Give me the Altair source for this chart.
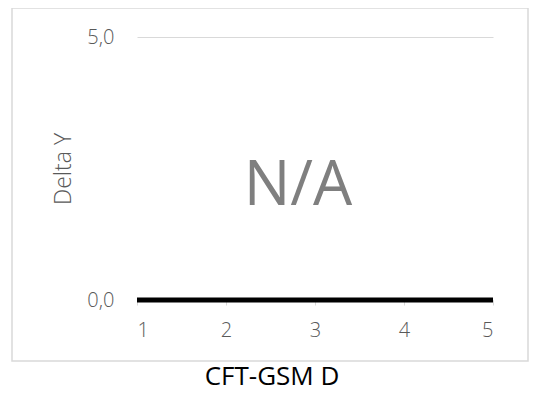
import altair as alt
import pandas as pd

x_vals = [1, 2, 3, 4, 5]
delta_y = [0, 0, 0, 0, 0]
y_ticks = [0, 5]
chart_title = "CFT-GSM D"
y_title = "Delta Y"
na_text = "N/A"

df = pd.DataFrame({"x": x_vals, "y": delta_y})

W, H = 356, 263
FONT = "Open Sans"

base = alt.Chart(df)

border = alt.Chart(pd.DataFrame({"a": [0]})).mark_rect(
    fill="transparent", stroke="#d9d9d9", strokeWidth=1.5
).encode(
    x=alt.value(-125), x2=alt.value(391), y=alt.value(-29), y2=alt.value(324)
)

line = base.mark_line(color="black", strokeWidth=5, strokeCap="butt").encode(
    x=alt.X("x:Q", scale=alt.Scale(domain=[1, 5], nice=False),
            axis=alt.Axis(values=x_vals, title=None, grid=False, domain=False,
                          tickColor="#d9d9d9", tickSize=5, labelPadding=15,
                          labelFont=FONT, labelFontSize=20, labelColor="#595959",
                          labelFontWeight=300, format="d")),
    y=alt.Y("y:Q", scale=alt.Scale(domain=[0, 5], nice=False),
            axis=alt.Axis(values=y_ticks, title=y_title, grid=True, gridColor="#d9d9d9",
                          gridWidth=1.2, domain=False, ticks=False, labelPadding=23,
                          labelFont=FONT, labelFontSize=20, labelColor="#595959",
                          labelFontWeight=300,
                          labelExpr="replace(format(datum.value, '.1f'), '.', ',')",
                          titleFont=FONT, titleFontSize=23, titleColor="#595959",
                          titleFontWeight=300, titlePadding=11)),
)

na = alt.Chart(pd.DataFrame({"t": [na_text]})).mark_text(
    font=FONT, fontSize=62, color="#7f7f7f", align="center", baseline="middle"
).encode(text="t:N", x=alt.value(161), y=alt.value(149))

ttl = alt.Chart(pd.DataFrame({"t": [chart_title]})).mark_text(
    font=FONT, fontSize=26, color="black", align="center", baseline="alphabetic"
).encode(text="t:N", x=alt.value(135), y=alt.value(348))

chart = alt.layer(border, line, na, ttl).properties(
    width=W, height=H,
    autosize=alt.AutoSizeParams(type="none"),
    padding={"left": 129, "top": 29, "right": 36, "bottom": 88},
    background="white",
).configure_view(stroke=None)

chart.save("out.html", embed_options={"renderer": "svg", "actions": False})
